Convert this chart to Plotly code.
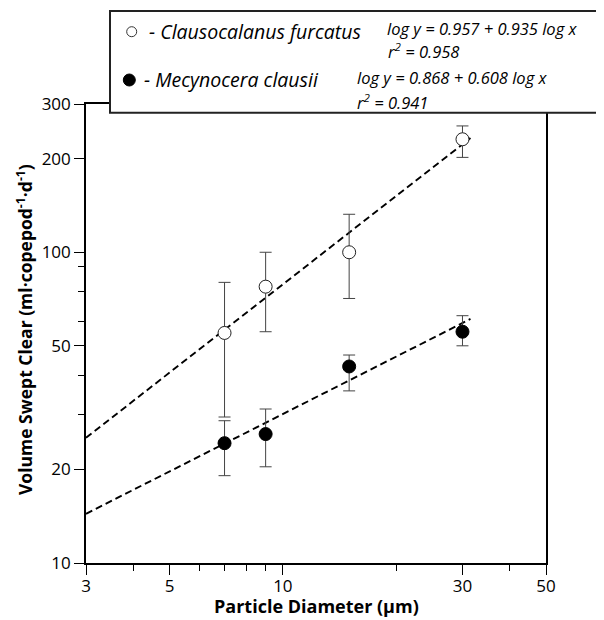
import plotly.graph_objects as go

# ---- data ----
diam = [7, 9, 15, 30]                      # particle diameter (µm)
cf_y = [55, 77.5, 100, 231]                # Clausocalanus furcatus
cf_hi = [80, 100, 132.5, 255]
cf_lo = [29.5, 55.5, 71, 202]
mc_y = [24.3, 26.0, 42.9, 55.5]            # Mecynocera clausii
mc_hi = [28.7, 31.3, 46.7, 62.5]
mc_lo = [19.1, 20.4, 35.8, 50.0]
fit_x = [3, 31.5]                          # regression line ends
cf_fit = [25.3, 233]
mc_fit = [14.4, 61]

x_major = [3, 5, 10, 30, 50]
x_minor = [4, 6, 7, 8, 9, 20, 40]
y_major = [10, 20, 50, 100, 200, 300]
y_minor = [30, 40, 60, 75, 90]

FONT = "Open Sans"
OFF = 8                      # page body margin offset
W, H = 604 - OFF, 620 - OFF
L, R, T, B = 86 - OFF, 58, 104 - OFF, 57
PW, PH = W - L - R, H - T - B


def px(xp):
    return (xp - OFF - L) / PW


def py(yp):
    return (H - B - (yp - OFF)) / PH


fig = go.Figure()
for fy in (cf_fit, mc_fit):
    fig.add_trace(go.Scatter(x=fit_x, y=fy, mode="lines",
                             line=dict(color="black", width=1.9, dash="7px,4px"),
                             showlegend=False, hoverinfo="skip"))
fig.add_trace(go.Scatter(
    x=diam, y=cf_y, mode="markers", showlegend=False,
    marker=dict(symbol="circle", size=13, color="white",
                line=dict(color="#222", width=1)),
    error_y=dict(type="data", symmetric=False,
                 array=[h - v for h, v in zip(cf_hi, cf_y)],
                 arrayminus=[v - l for l, v in zip(cf_lo, cf_y)],
                 color="#444", thickness=1, width=6)))
fig.add_trace(go.Scatter(
    x=diam, y=mc_y, mode="markers", showlegend=False,
    marker=dict(symbol="circle", size=13, color="black",
                line=dict(color="black", width=1)),
    error_y=dict(type="data", symmetric=False,
                 array=[h - v for h, v in zip(mc_hi, mc_y)],
                 arrayminus=[v - l for l, v in zip(mc_lo, mc_y)],
                 color="#444", thickness=1, width=6)))

axis_common = dict(type="log", showgrid=False, zeroline=False,
                   showline=True, linecolor="black", linewidth=1.6,
                   mirror=True, ticks="outside", ticklen=10, tickwidth=1.2,
                   tickcolor="black", tickmode="array", automargin=False,
                   tickfont=dict(family=FONT, size=17, color="black"))

fig.update_xaxes(**axis_common, range=[0.47712, 1.69897],
                 tickvals=x_major, ticktext=[str(v) for v in x_major],
                 ticklabelstandoff=-3,
                 minor=dict(tickmode="array", tickvals=x_minor, ticks="outside",
                            ticklen=6, tickwidth=1.2, tickcolor="black"))
fig.update_yaxes(**axis_common, range=[1, 2.47712],
                 tickvals=y_major, ticktext=[str(v) for v in y_major],
                 minor=dict(tickmode="array", tickvals=y_minor, ticks="outside",
                            ticklen=6, tickwidth=1.2, tickcolor="black"))

shapes = [
    dict(type="rect", xref="paper", yref="paper",
         x0=px(110), x1=px(606), y0=py(112.7), y1=py(11),
         line=dict(color="#222", width=2), fillcolor="white", layer="above"),
    dict(type="circle", xref="paper", yref="paper",
         x0=px(126.7), x1=px(136.7), y0=py(36.7), y1=py(26.7),
         line=dict(color="#333", width=1), fillcolor="white", layer="above"),
    dict(type="circle", xref="paper", yref="paper",
         x0=px(123.3), x1=px(135.3), y0=py(86), y1=py(74),
         line=dict(color="black", width=1), fillcolor="black", layer="above"),
]


def ann(text, x, y, size, xanchor="left", angle=0, yanchor="middle"):
    return dict(text=text, xref="paper", yref="paper", x=px(x), y=py(y),
                xanchor=xanchor, yanchor=yanchor, showarrow=False,
                textangle=angle, align="left" if xanchor == "left" else "center",
                font=dict(family=FONT, size=size, color="black"))


annotations = [
    ann("<i>- Clausocalanus furcatus</i>", 147, 32, 19.5),
    ann("<i>log y = 0.957 + 0.935 log x</i>", 385, 28, 16.5),
    ann("<i>r<sup>2</sup> = 0.958</i>", 386, 51, 16.5),
    ann("<i>- Mecynocera clausii</i>", 142, 80, 19.5),
    ann("<i>log y = 0.868 + 0.608 log x</i>", 355, 78, 16.5),
    ann("<i>r<sup>2</sup> = 0.941</i>", 355, 102, 16.5),
    ann("<b>Particle Diameter (µm)</b>", 316, 620, 18, xanchor="center",
        yanchor="bottom"),
    ann("<b>Volume Swept Clear (ml·copepod<sup>-1</sup>·d<sup>-1</sup>)</b>",
        24, 330, 17.5, xanchor="center", angle=-90),
]

fig.update_layout(width=W, height=H, margin=dict(l=L, r=R, t=T, b=B),
                  plot_bgcolor="white", paper_bgcolor="white",
                  shapes=shapes, annotations=annotations,
                  font=dict(family=FONT, color="black"))

fig.write_html("out.html", config={"displayModeBar": False})
